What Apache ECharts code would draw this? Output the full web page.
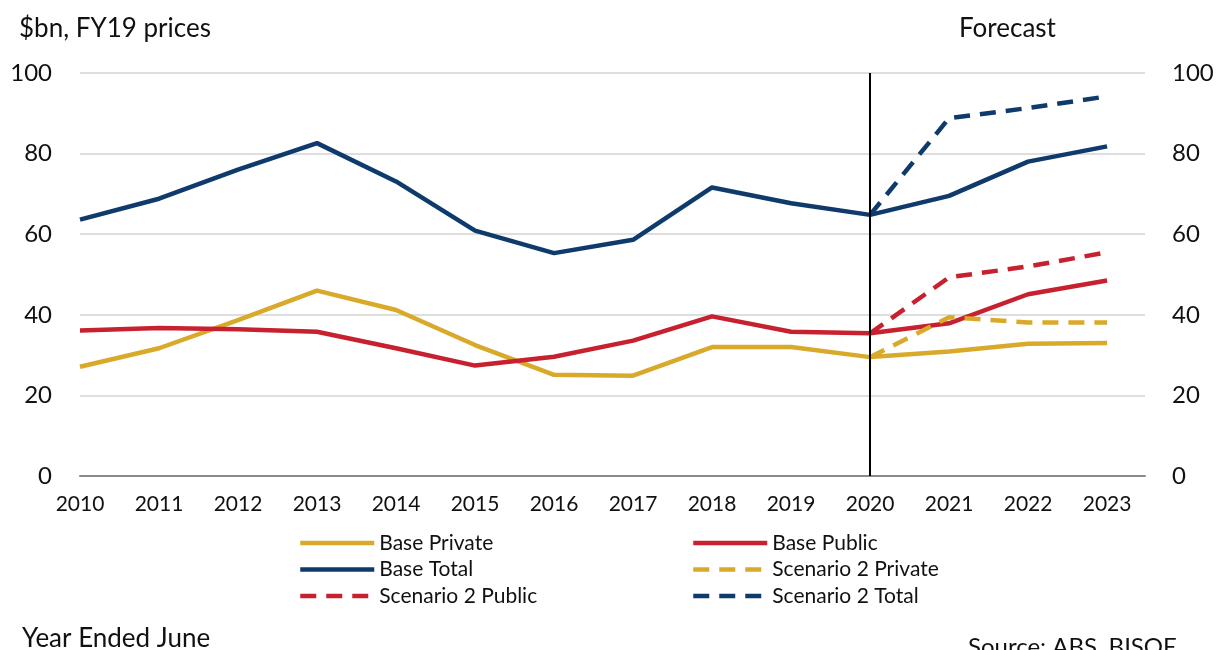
<!DOCTYPE html>
<html>
<head>
<meta charset="utf-8">
<script src="https://cdn.jsdelivr.net/npm/echarts@6/dist/echarts.min.js"></script>
<style>
html,body{margin:0;padding:0;background:#fff;}
#chart{width:1226px;height:650px;}
</style>
</head>
<body>
<div id="chart"></div>
<script>
const years = [2010,2011,2012,2013,2014,2015,2016,2017,2018,2019,2020,2021,2022,2023];
const basePrivate = [27.1,31.7,38.7,46.0,41.2,32.5,25.1,24.9,32.0,32.0,29.5,30.9,32.8,33.0];
const basePublic  = [36.1,36.7,36.4,35.8,31.7,27.4,29.6,33.6,39.6,35.8,35.4,37.9,45.1,48.5];
const baseTotal   = [63.6,68.8,76.0,82.6,73.1,60.9,55.3,58.6,71.6,67.7,64.8,69.5,78.0,81.8];
const s2Years   = [2020,2021,2022,2023];
const s2Private = [29.5,39.4,38.1,38.1];
const s2Public  = [35.4,49.3,52.0,55.5];
const s2Total   = [64.8,88.8,91.3,94.2];
const yTicks = [0,20,40,60,80,100];
const forecastYear = 2020;

const GOLD = '#d9a92a', RED = '#c7202e', NAVY = '#0f3a6c';
const FONT = 'Lato';

function pairs(xs, ys){ return xs.map((x,i)=>[x, ys[i]]); }
function solid(name, color, xs, ys){
  return {name, type:'line', data:pairs(xs,ys), symbol:'none', smooth:false,
    lineStyle:{color, width:4.5, type:'solid'}, itemStyle:{color}, z:3};
}
function dashed(name, color, xs, ys){
  return {name, type:'line', data:pairs(xs,ys), symbol:'none',
    lineStyle:{color, width:4.5, type:[16,10]}, itemStyle:{color}, z:4};
}

const chart = echarts.init(document.getElementById('chart'), null, {renderer:'canvas'});
const series = [
  solid('Base Private', GOLD, years, basePrivate),
  solid('Base Public', RED, years, basePublic),
  solid('Base Total', NAVY, years, baseTotal),
  dashed('Scenario 2 Private', GOLD, s2Years, s2Private),
  dashed('Scenario 2 Public', RED, s2Years, s2Public),
  dashed('Scenario 2 Total', NAVY, s2Years, s2Total)
];
series[0].markLine = {
  silent:true, symbol:['none','none'], label:{show:false},
  lineStyle:{color:'#000', width:2, type:'solid'},
  data:[{xAxis:forecastYear}], animation:false
};

const legendText = {fontFamily:FONT, fontSize:21, lineHeight:22, color:'#111'};
const legendCommon = {orient:'vertical', top:532, padding:0, itemWidth:74, itemHeight:14, itemGap:4.5,
  textStyle:legendText, selectedMode:false,
  itemStyle:{opacity:0}, lineStyle:{width:4.5}};
const titleStyle = {fontFamily:FONT, fontSize:26, fontWeight:'normal', color:'#111'};
chart.setOption({
  animation:false,
  backgroundColor:'#fff',
  textStyle:{fontFamily:FONT},
  title:[
    {text:'$bn, FY19 prices', left:19, top:16, padding:0, textStyle:titleStyle},
    {text:'Forecast', left:959, top:16, padding:0, textStyle:titleStyle},
    {text:'Year Ended June', left:22, top:626, padding:0, textStyle:titleStyle},
    {text:'Source: ABS, BISOE', left:968, top:635, padding:0,
     textStyle:Object.assign({}, titleStyle, {fontSize:24})}
  ],
  legend:[
    Object.assign({left:298, data:['Base Private','Base Total','Scenario 2 Public']}, legendCommon),
    Object.assign({left:691, data:['Base Public','Scenario 2 Private','Scenario 2 Total']}, legendCommon)
  ],
  grid:{left:80, right:81, top:73, bottom:174, containLabel:false},
  xAxis:{
    type:'value', min:years[0], max:2023.48, interval:1,
    axisLine:{show:true, onZero:false, lineStyle:{color:'#8a8a8a', width:2}},
    axisTick:{show:false},
    splitLine:{show:false},
    axisLabel:{fontFamily:FONT, fontSize:21, color:'#111', margin:18, showMaxLabel:false,
      formatter:v => (Number.isInteger(v) && years.includes(v)) ? String(v) : ''}
  },
  yAxis:[
    {type:'value', min:yTicks[0], max:yTicks[yTicks.length-1], interval:20, position:'left',
     axisLine:{show:false}, axisTick:{show:false},
     splitLine:{lineStyle:{color:'#d3d3d3', width:1.5}},
     axisLabel:{fontFamily:FONT, fontSize:24, color:'#111', margin:28}},
    {type:'value', min:yTicks[0], max:yTicks[yTicks.length-1], interval:20, position:'right',
     axisLine:{show:false}, axisTick:{show:false}, splitLine:{show:false},
     axisLabel:{fontFamily:FONT, fontSize:24, color:'#111', margin:27}}
  ],
  series
});
</script>
</body>
</html>
